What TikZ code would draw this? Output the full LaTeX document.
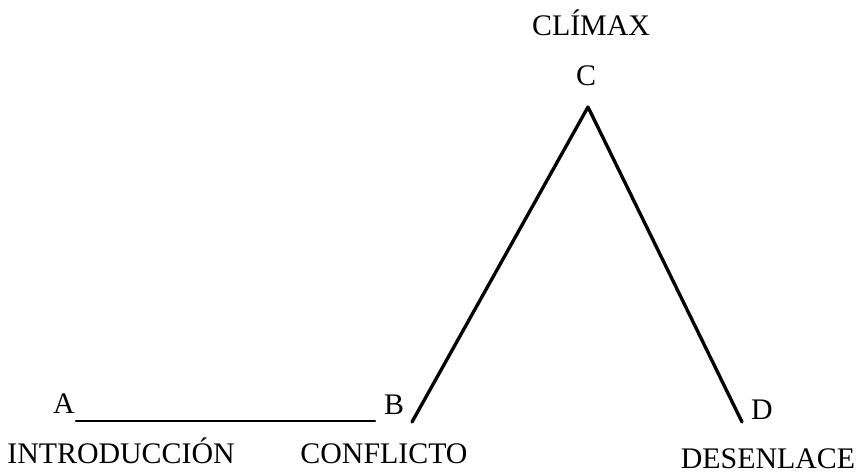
\documentclass[tikz,border=0pt]{standalone}
\usepackage{fontspec}
\setmainfont{Liberation Serif}
\begin{document}
\begin{tikzpicture}[line cap=round,line join=round,
  lbl/.style={inner sep=0pt,anchor=base,font=\fontsize{17}{20}\selectfont}]
  \useasboundingbox (0,0) rectangle (17.16,9.52);
  % puntos de la trama
  \coordinate (a) at (1.52,1.10);
  \coordinate (b) at (7.50,1.10);
  \coordinate (b2) at (8.24,1.08);
  \coordinate (c) at (11.76,7.38);
  \coordinate (d) at (14.84,1.08);
  \draw[line width=1.2pt] (a) -- (b);
  \draw[line width=1.9pt] (b2) -- (c) -- (d);
  \node[lbl] (la) at (1.28,1.24) {A};
  \node[lbl] (lb) at (7.88,1.22) {B};
  \node[lbl] (lc) at (11.72,7.80) {C};
  \node[lbl] (ld) at (15.24,1.12) {D};
  \node[lbl] (intro) at (2.42,0.24) {INTRODUCCIÓN};
  \node[lbl] (conf) at (7.68,0.24) {CONFLICTO};
  \node[lbl] (clim) at (11.82,8.80) {CLÍMAX};
  \node[lbl] (des) at (15.36,0.14) {DESENLACE};
\end{tikzpicture}
\end{document}
